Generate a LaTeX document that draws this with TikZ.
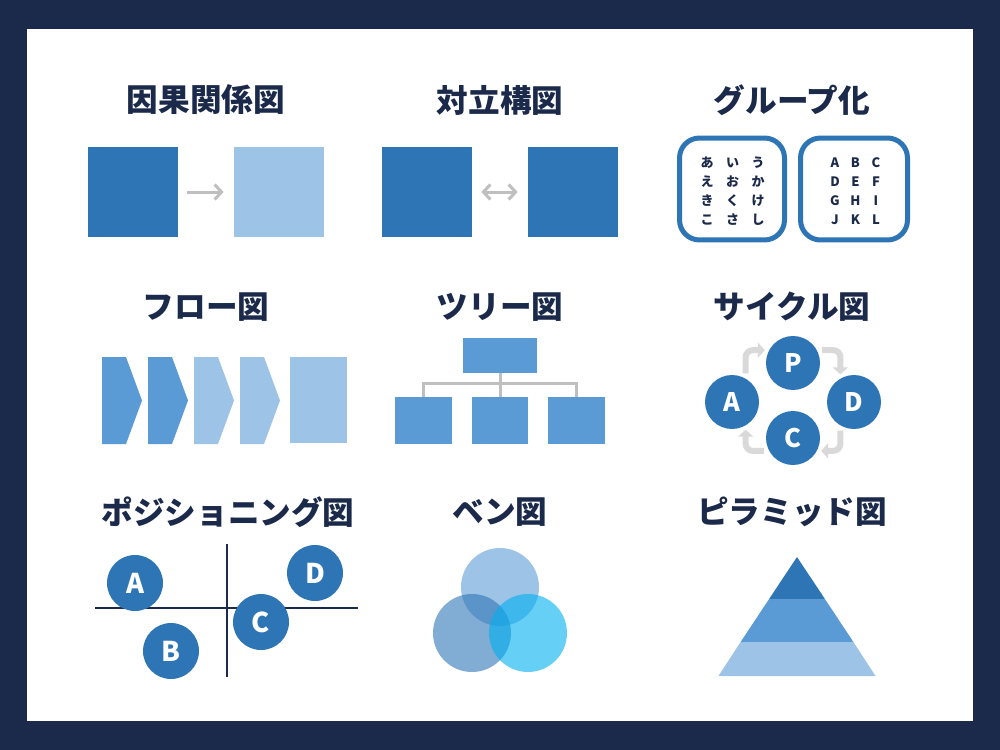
\documentclass[tikz,border=0pt]{standalone}
\usepackage{fontspec}
\newfontfamily\jp{Noto Sans CJK JP}
\usetikzlibrary{arrows.meta}
\definecolor{navy}{HTML}{1B2A4A}
\definecolor{dblue}{HTML}{2E75B6}
\definecolor{mblue}{HTML}{5B9BD5}
\definecolor{lblue}{HTML}{9DC3E6}
\definecolor{agray}{HTML}{BFBFBF}
\definecolor{cgray}{HTML}{D9D9D9}
\definecolor{cyanb}{HTML}{00B0F0}
\begin{document}
\begin{tikzpicture}[x=0.02cm,y=-0.02cm,
  title/.style={font=\jp\bfseries\fontsize{18}{20}\selectfont,text=navy,inner sep=0},
  sq/.style={minimum width=1.8cm,minimum height=1.8cm,inner sep=0},
  arr/.style={agray,line width=0.06cm,-{Straight Barb[length=0.14cm,width=0.3cm]}},
  gbox/.style={draw=dblue,line width=0.1cm,rounded corners=0.4cm,inner sep=0},
  gtxt/.style={font=\jp\bfseries\fontsize{7.4}{8}\selectfont,text=navy,inner sep=0},
  tbox/.style={fill=mblue,inner sep=0},
  tline/.style={agray,line width=0.06cm},
  cyc/.style={cgray,line width=0.12cm,rounded corners=0.14cm,-{Triangle[length=0.14cm,width=0.3cm]},shorten <=0.1cm,shorten >=0.08cm},
  cnode/.style={circle,fill=dblue,minimum size=1.08cm,inner sep=0,text=white,font=\jp\bfseries\fontsize{14.5}{16}\selectfont},
  pnode/.style={circle,fill=dblue,minimum size=1.12cm,inner sep=0,text=white,font=\jp\bfseries\fontsize{15.5}{17}\selectfont},
  pline/.style={navy,line width=0.04cm},
  vnode/.style={circle,minimum size=1.56cm,inner sep=0}
]
% frame
\fill[navy] (0,0) rectangle (1000,750);
\fill[white] (27,29) rectangle (973,721);
\useasboundingbox (0,0) rectangle (1000,750);

% titles
\node[title] (t1) at (206,100) {因果関係図};
\node[title] (t2) at (500,100) {対立構図};
\node[title] (t3) at (792,100) {グループ化};
\node[title] (t4) at (206,307) {フロー図};
\node[title] (t5) at (500,307) {ツリー図};
\node[title] (t6) at (792,307) {サイクル図};
\node[title] (t7) at (228,512) {ポジショニング図};
\node[title] (t8) at (500,512) {ベン図};
\node[title] (t9) at (792,512) {ピラミッド図};

% causal
\node[sq,fill=dblue] (ca) at (133,192) {};
\node[sq,fill=lblue] (cb) at (279,192) {};
\draw[arr] ([xshift=0.18cm]ca.east) -- ([xshift=-0.2cm]cb.west);

% opposition
\node[sq,fill=dblue] (oa) at (427,192) {};
\node[sq,fill=dblue] (ob) at (573,192) {};
\draw[arr,{Straight Barb[length=0.14cm,width=0.3cm]}-{Straight Barb[length=0.14cm,width=0.3cm]}] ([xshift=0.18cm]oa.east) -- ([xshift=-0.2cm]ob.west);

% grouping
\node[gbox,minimum width=2.1cm,minimum height=2.04cm] (ga) at (732,189) {};
\node[gbox,minimum width=2.14cm,minimum height=2.04cm] (gb) at (854,189) {};
\foreach \ch [count=\k from 0] in {あ,い,う,え,お,か,き,く,け,こ,さ,し}{
  \pgfmathtruncatemacro\col{mod(\k,3)}
  \pgfmathtruncatemacro\row{div(\k,3)}
  \node[gtxt] (gx\k) at (707+25.5*\col,163+19*\row) {\ch};
}
\foreach \ch [count=\k from 0] in {A,B,C,D,E,F,G,H,I,J,K,L}{
  \pgfmathtruncatemacro\col{mod(\k,3)}
  \pgfmathtruncatemacro\row{div(\k,3)}
  \node[gtxt] (gy\k) at (835+20.5*\col,163+19*\row) {\ch};
}

% flow
\foreach \xx/\cc in {102/mblue,148/mblue,194/lblue,240/lblue}{
  \fill[\cc] (\xx,357) -- (\xx+24,357) -- (\xx+40,400.5) -- (\xx+24,444) -- (\xx,444) -- cycle;
}
\fill[lblue] (290,357) rectangle (347,443);

% tree
\node[tbox,minimum width=1.48cm,minimum height=0.7cm] (tr) at (500,355.5) {};
\node[tbox,minimum width=1.14cm,minimum height=0.94cm] (b1) at (423.5,420.5) {};
\node[tbox,minimum width=1.12cm,minimum height=0.94cm] (b2) at (500,420.5) {};
\node[tbox,minimum width=1.14cm,minimum height=0.94cm] (b3) at (576.5,420.5) {};
\coordinate (hj) at (500,383);
\draw[tline] (tr.south) -- (hj);
\draw[tline] (b1.north) |- (hj);
\draw[tline] (b3.north) |- (hj);
\draw[tline] (b2.north) -- (hj);

% cycle
\node[cnode] (P) at (793,363) {P};
\node[cnode] (A) at (732,402) {A};
\node[cnode] (D) at (854,402) {D};
\node[cnode] (C) at (793,438) {C};
\draw[cyc] (A.60) |- (P.152);
\draw[cyc] (P.28) -| (D.120);
\draw[cyc] (D.240) |- (C.332);
\draw[cyc] (C.208) -| (A.300);

% positioning
\coordinate (hl) at (95,608);
\coordinate (hr) at (358,608);
\coordinate (vt) at (227,544);
\coordinate (vb) at (227,677);
\draw[pline] (hl) -- (hr);
\draw[pline] (vt) -- (vb);
\node[pnode] (pa) at (135,583) {A};
\node[pnode] (pb) at (171,651) {B};
\node[pnode] (pc) at (261,622) {C};
\node[pnode] (pd) at (315,573) {D};

% venn
\node[vnode,fill=lblue] (v1) at (500,587) {};
\node[vnode,fill=dblue,fill opacity=0.6] (v2) at (472,633) {};
\node[vnode,fill=cyanb,fill opacity=0.6] (v3) at (528,633) {};

% pyramid
\fill[dblue] (797,557) -- (824.9,599) -- (769.1,599) -- cycle;
\fill[mblue] (769.1,599) -- (824.9,599) -- (853.4,642) -- (740.6,642) -- cycle;
\fill[lblue] (740.6,642) -- (853.4,642) -- (875.5,676) -- (718.5,676) -- cycle;
\end{tikzpicture}
\end{document}
